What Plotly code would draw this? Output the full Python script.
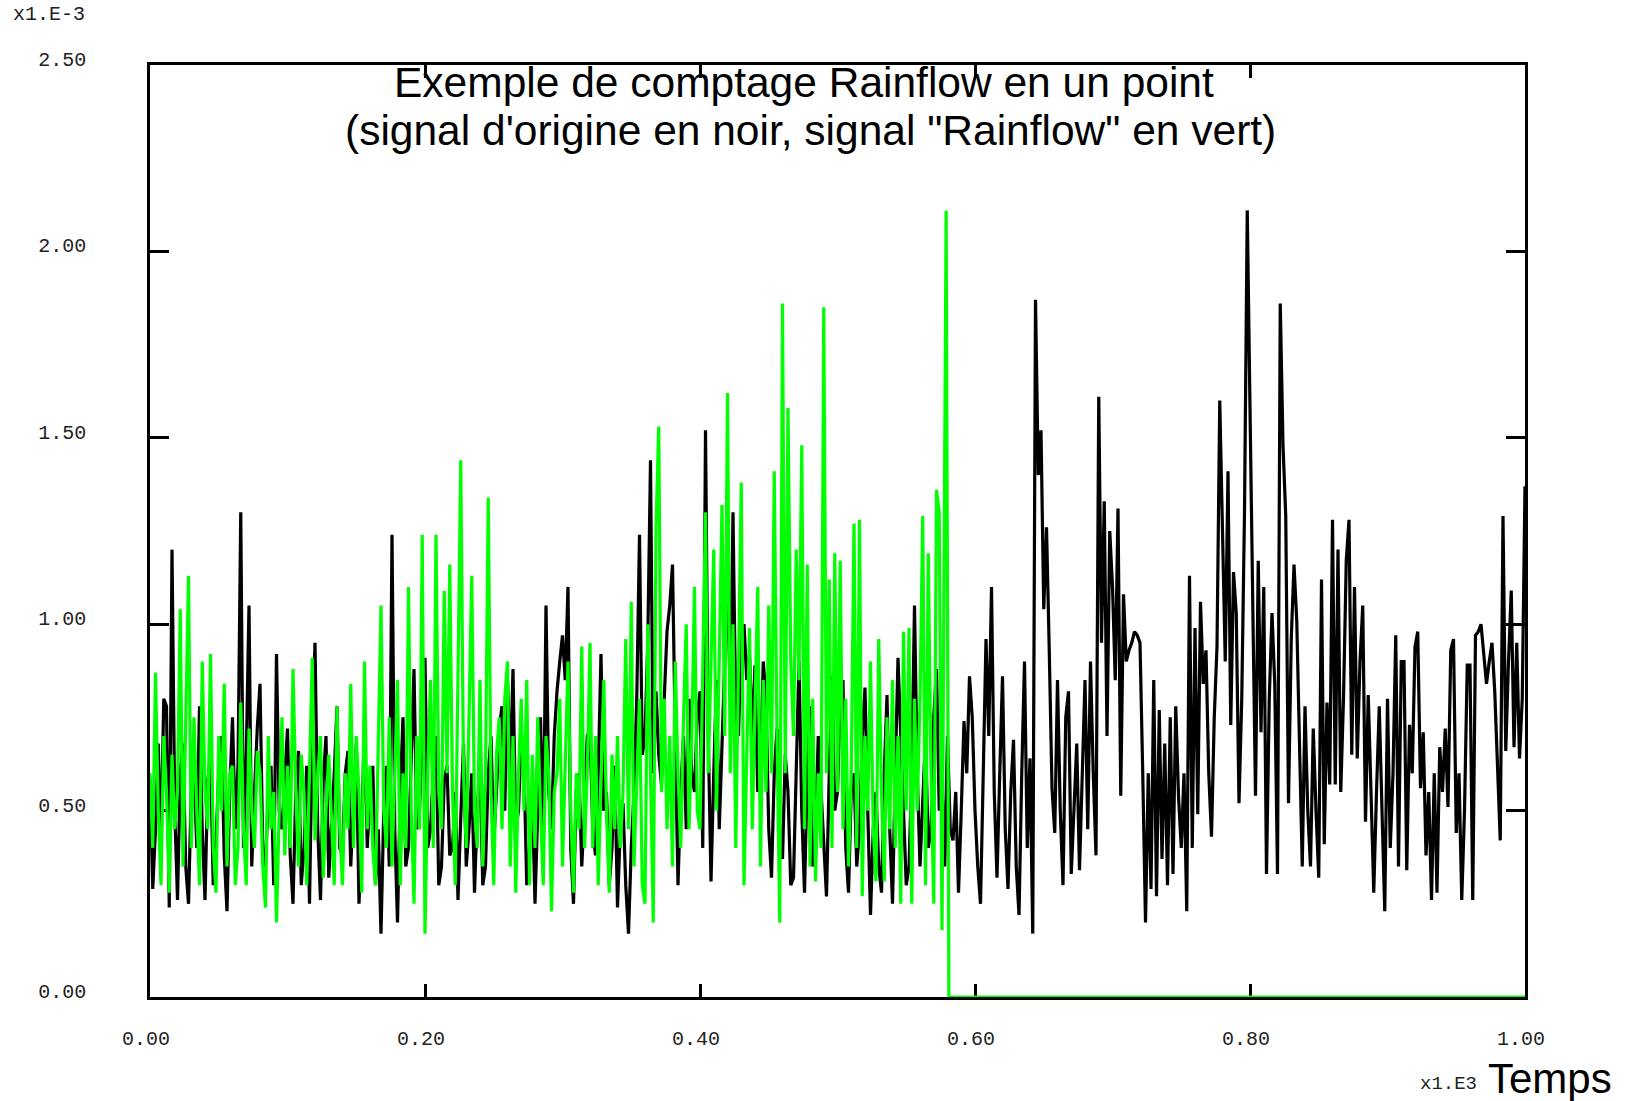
import plotly.graph_objects as go

# ---------------- data ----------------
# black: original signal, one value every 2 time units from 0 to 1000
signal_noir = [
    0.58, 0.29, 0.45, 0.68, 0.40, 0.80, 0.78, 0.24, 1.20, 0.50,
    0.26, 0.60, 0.68, 0.35, 0.25, 0.55, 0.62, 0.40, 0.78, 0.45,
    0.26, 0.58, 0.65, 0.30, 0.42, 0.60, 0.70, 0.38, 0.23, 0.55,
    0.75, 0.45, 0.62, 1.30, 0.40, 0.65, 1.05, 0.35, 0.55, 0.72,
    0.84, 0.40, 0.35, 0.55, 0.62, 0.30, 0.92, 0.50, 0.45, 0.60,
    0.72, 0.38, 0.25, 0.55, 0.66, 0.30, 0.40, 0.62, 0.25, 0.70,
    0.95, 0.45, 0.26, 0.58, 0.70, 0.32, 0.45, 0.60, 0.78, 0.40,
    0.38, 0.60, 0.66, 0.35, 0.52, 0.68, 0.25, 0.45, 0.74, 0.40,
    0.55, 0.62, 0.30, 0.45, 0.17, 0.50, 0.62, 0.35, 1.24, 0.45,
    0.20, 0.55, 0.75, 0.35, 0.40, 0.65, 0.88, 0.45, 0.50, 0.70,
    0.91, 0.40, 0.45, 0.60, 0.70, 0.30, 0.35, 0.58, 0.62, 0.38,
    0.40, 0.55, 0.26, 0.48, 0.68, 0.35, 0.45, 0.60, 0.28, 0.50,
    0.62, 0.30, 0.35, 0.60, 0.70, 0.42, 0.55, 0.72, 0.78, 0.50,
    0.85, 0.60, 0.88, 0.45, 0.50, 0.70, 0.62, 0.30, 0.40, 0.55,
    0.25, 0.50, 0.75, 0.40, 1.05, 0.55, 0.45, 0.70, 0.82, 0.90,
    0.97, 0.85, 1.10, 0.40, 0.25, 0.55, 0.60, 0.35, 0.50, 0.70,
    0.72, 0.45, 0.38, 0.60, 0.92, 0.50, 0.55, 0.30, 0.40, 0.62,
    0.24, 0.45, 0.52, 0.30, 0.17, 0.40, 0.55, 0.80, 1.24, 0.65,
    0.70, 0.95, 1.44, 0.60, 0.82, 0.65, 0.57, 0.80, 0.98, 1.05,
    1.16, 0.70, 0.30, 0.55, 0.70, 0.45, 0.80, 0.60, 0.55, 0.75,
    0.82, 0.40, 1.52, 0.70, 0.31, 0.60, 0.85, 0.45, 0.65, 0.90,
    1.12, 0.80, 1.30, 0.75, 0.70, 0.98, 1.00, 0.85, 0.92, 0.70,
    0.89, 0.55, 0.62, 0.90, 0.80, 0.45, 0.32, 0.60, 0.72, 0.45,
    0.37, 0.65, 0.55, 0.30, 0.32, 0.60, 0.90, 0.50, 0.28, 0.60,
    0.78, 0.35, 0.45, 0.70, 0.55, 0.40, 0.27, 0.60, 0.86, 0.50,
    0.55, 0.80, 0.85, 0.40, 0.28, 0.55, 0.60, 0.35, 0.45, 0.70,
    0.83, 0.50, 0.22, 0.45, 0.55, 0.35, 0.28, 0.60, 0.81, 0.45,
    0.25, 0.60, 0.91, 0.70, 0.50, 0.30, 0.35, 0.60, 1.05, 0.60,
    0.35, 0.55, 0.70, 0.40, 0.45, 0.75, 0.88, 0.50, 0.58, 0.35,
    0.70, 0.45, 0.42, 0.55, 0.28, 0.50, 0.74, 0.60, 0.86, 0.75,
    0.50, 0.35, 0.25, 0.60, 0.96, 0.70, 1.10, 0.55, 0.32, 0.60,
    0.86, 0.45, 0.29, 0.55, 0.69, 0.35, 0.22, 0.60, 0.90, 0.40,
    0.64, 0.17, 1.87, 1.40, 1.52, 1.04, 1.26, 0.93, 0.56, 0.44,
    0.85, 0.50, 0.30, 0.75, 0.82, 0.33, 0.50, 0.68, 0.34, 0.60,
    0.85, 0.45, 0.90, 0.60, 0.38, 1.61, 0.95, 1.33, 0.70, 1.25,
    1.10, 0.85, 1.31, 0.54, 1.08, 0.90, 0.93, 0.95, 0.98, 0.97,
    0.95, 0.60, 0.20, 0.60, 0.29, 0.85, 0.27, 0.77, 0.37, 0.68,
    0.30, 0.75, 0.33, 0.78, 0.54, 0.40, 0.60, 0.23, 1.13, 0.40,
    0.99, 0.49, 1.06, 0.84, 0.93, 0.60, 0.43, 0.75, 0.94, 1.60,
    1.28, 0.90, 1.41, 0.73, 1.14, 1.03, 0.52, 0.80, 1.30, 2.11,
    1.58, 1.10, 0.54, 1.17, 0.71, 1.10, 0.33, 0.80, 1.03, 0.84,
    0.33, 1.86, 1.48, 1.29, 0.52, 0.96, 1.16, 1.01, 0.70, 0.35,
    0.78, 0.50, 0.35, 0.72, 0.50, 0.32, 1.12, 0.41, 0.79, 0.57,
    1.28, 0.57, 1.20, 0.55, 0.80, 1.17, 1.28, 0.65, 1.10, 0.64,
    0.90, 1.05, 0.47, 0.81, 0.55, 0.28, 0.55, 0.78, 0.50, 0.23,
    0.80, 0.40, 0.60, 0.97, 0.35, 0.90, 0.90, 0.34, 0.73, 0.60,
    0.94, 0.98, 0.56, 0.71, 0.38, 0.55, 0.26, 0.60, 0.28, 0.67,
    0.55, 0.72, 0.51, 0.93, 0.96, 0.44, 0.60, 0.26, 0.50, 0.89,
    0.89, 0.26, 0.97, 0.98, 1.00, 0.92, 0.84, 0.90, 0.95, 0.82,
    0.60, 0.42, 1.29, 0.66, 0.90, 1.09, 0.67, 0.95, 0.64, 0.80,
    1.37,
]
pas_noir = 2
temps_noir = [i * pas_noir for i in range(len(signal_noir))]

# green: "Rainflow" signal, one value every 2 time units from 0 to 576,
# then the last peak, the drop and the flat zero part
signal_vert_regulier = [
    0.60, 0.40, 0.87, 0.50, 0.30, 0.70, 0.55, 0.28, 0.65, 0.45,
    0.55, 1.04, 0.35, 0.70, 1.13, 0.40, 0.75, 0.50, 0.30, 0.90,
    0.55, 0.45, 0.92, 0.40, 0.28, 0.70, 0.50, 0.84, 0.35, 0.60,
    0.62, 0.30, 0.40, 0.79, 0.45, 0.30, 0.72, 0.50, 0.40, 0.66,
    0.60, 0.35, 0.24, 0.70, 0.45, 0.55, 0.20, 0.50, 0.75, 0.38,
    0.62, 0.40, 0.88, 0.55, 0.35, 0.65, 0.55, 0.30, 0.60, 0.91,
    0.42, 0.60, 0.70, 0.32, 0.50, 0.65, 0.48, 0.30, 0.78, 0.45,
    0.30, 0.60, 0.45, 0.84, 0.40, 0.70, 0.55, 0.28, 0.90, 0.45,
    0.62, 0.40, 0.30, 0.70, 1.05, 0.50, 0.40, 0.75, 0.35, 0.60,
    0.85, 0.30, 0.60, 0.40, 1.10, 0.50, 0.25, 0.70, 0.45, 1.24,
    0.17, 0.60, 0.85, 0.40, 1.24, 0.55, 0.45, 1.09, 0.60, 1.16,
    0.55, 0.30, 0.80, 1.44, 0.60, 0.40, 0.75, 1.13, 0.50, 0.40,
    0.85, 0.35, 0.60, 1.34, 0.55, 0.30, 0.65, 0.75, 0.45, 0.80,
    0.90, 0.35, 0.70, 0.28, 0.60, 0.80, 0.50, 0.85, 0.30, 0.65,
    0.40, 0.75, 0.50, 0.30, 0.70, 0.60, 0.23, 0.55, 0.60, 0.80,
    0.35, 0.65, 0.90, 0.50, 0.28, 0.60, 0.45, 0.94, 0.40, 0.60,
    0.95, 0.40, 0.70, 0.30, 0.60, 0.85, 0.50, 0.28, 0.65, 0.45,
    0.70, 0.40, 0.55, 0.96, 0.45, 1.06, 0.35, 0.60, 0.80, 0.30,
    0.25, 1.00, 0.60, 0.20, 1.26, 1.53, 0.55, 0.80, 0.45, 0.70,
    0.35, 0.90, 0.60, 0.40, 0.75, 1.00, 0.45, 0.70, 1.10, 0.50,
    0.45, 0.85, 1.30, 0.60, 0.95, 1.20, 0.50, 0.90, 1.32, 0.70,
    1.62, 0.60, 1.00, 0.40, 0.85, 1.38, 0.30, 0.70, 0.99, 0.45,
    0.75, 1.10, 0.35, 0.85, 0.55, 1.05, 0.60, 1.41, 0.70, 0.20,
    1.86, 0.60, 1.58, 0.90, 0.70, 1.20, 0.85, 1.48, 0.45, 1.16,
    0.35, 0.80, 0.31, 0.60, 0.40, 1.85, 0.60, 1.12, 0.40, 1.19,
    0.55, 1.17, 0.45, 0.80, 0.35, 0.60, 1.27, 0.40, 1.28, 0.27,
    0.70, 0.50, 0.90, 0.45, 0.31, 0.96, 0.55, 0.31, 0.75, 0.45,
    0.85, 0.40, 0.70, 0.25, 0.98, 0.50, 0.99, 0.25, 0.80, 0.50,
    0.80, 1.29, 0.30, 1.19, 0.60, 0.25, 1.36, 1.30, 0.18,
]
pas_vert = 2
temps_vert_fin = [579, 581, 1000]
signal_vert_fin = [2.11, 0.0, 0.0]
temps_vert = [i * pas_vert for i in range(len(signal_vert_regulier))] + temps_vert_fin
signal_vert = signal_vert_regulier + signal_vert_fin

x_ticks = [0, 200, 400, 600, 800, 1000]
x_tick_labels = ["0.00", "0.20", "0.40", "0.60", "0.80", "1.00"]
y_ticks = [0.0, 0.5, 1.0, 1.5, 2.0, 2.5]
y_tick_labels = ["0.00", "0.50", "1.00", "1.50", "2.00", "2.50"]

titre1 = "Exemple de comptage Rainflow en un point"
titre2 = "(signal d'origine en noir, signal \"Rainflow\" en vert)"

# ---------------- layout geometry ----------------
W, H = 1632, 1101
L, R, T, B = 150, 1525, 65, 997


def px(x):
    return (x - L) / (R - L)


def py(y):
    return (B - y) / (B - T)


mono = "Liberation Mono, Courier New, monospace"
sans = "Liberation Sans, Arial, sans-serif"
lab_col = "#222222"

fig = go.Figure()
fig.add_trace(go.Scatter(x=temps_noir, y=signal_noir, mode="lines",
                         line=dict(color="#000000", width=3.2), showlegend=False))
fig.add_trace(go.Scatter(x=temps_vert, y=signal_vert, mode="lines", cliponaxis=False,
                         line=dict(color="#00ff00", width=3.2), showlegend=False))

fig.update_layout(
    width=W, height=H,
    margin=dict(l=L, r=W - R, t=T, b=H - B, autoexpand=False),
    paper_bgcolor="white", plot_bgcolor="white",
    showlegend=False,
    xaxis=dict(range=[0, 1000], tickmode="array", tickvals=x_ticks, ticktext=x_tick_labels,
               ticks="inside", ticklen=13, tickwidth=2.5, tickcolor="black",
               showline=True, linecolor="black", linewidth=2.5, mirror="ticks",
               showgrid=False, zeroline=False, layer="below traces",
               tickfont=dict(family=mono, size=20, color=lab_col),
               ticklabelstandoff=21, ticklabelshift=-4, automargin=False),
    yaxis=dict(range=[0, 2.5], tickmode="array", tickvals=y_ticks, ticktext=y_tick_labels,
               ticks="inside", ticklen=19, tickwidth=2.5, tickcolor="black",
               showline=True, linecolor="black", linewidth=2.5, mirror="ticks",
               showgrid=False, zeroline=False, layer="below traces",
               tickfont=dict(family=mono, size=20, color=lab_col),
               ticklabelstandoff=57, ticklabelshift=-6, automargin=False),
)

annotations = [
    dict(text=titre1, x=px(804), y=py(83), font=dict(family=sans, size=42.5, color="black")),
    dict(text=titre2, x=px(810), y=py(130), font=dict(family=sans, size=42.5, color="black")),
    dict(text="x1.E-3", x=px(11), y=py(14), xanchor="left",
         font=dict(family=mono, size=20, color=lab_col)),
    dict(text="Temps", x=px(1486), y=py(1078), xanchor="left",
         font=dict(family=sans, size=42, color="black")),
    dict(text="x1.E3", x=px(1479), y=py(1084), xanchor="right",
         font=dict(family=mono, size=19, color=lab_col)),
]
for a in annotations:
    a.setdefault("xanchor", "center")
    fig.add_annotation(xref="paper", yref="paper", showarrow=False, yanchor="middle", **a)

fig.write_html("out.html")
